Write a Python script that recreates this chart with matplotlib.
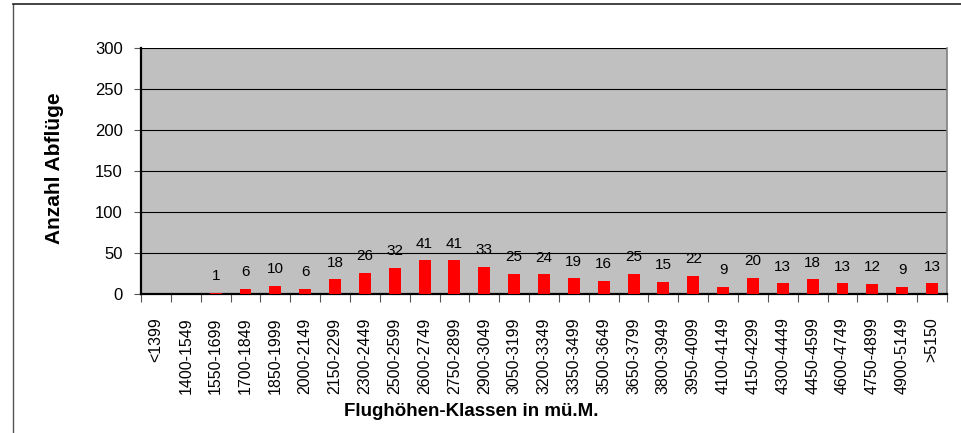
import matplotlib.pyplot as plt
from matplotlib.lines import Line2D
import numpy as np

plt.rcParams['font.family'] = ['Liberation Sans', 'DejaVu Sans']

# Flughöhen-Klassen und Anzahl Abflüge
klassen = ["<1399", "1400-1549", "1550-1699", "1700-1849", "1850-1999", "2000-2149",
           "2150-2299", "2300-2449", "2500-2599", "2600-2749", "2750-2899", "2900-3049",
           "3050-3199", "3200-3349", "3350-3499", "3500-3649", "3650-3799", "3800-3949",
           "3950-4099", "4100-4149", "4150-4299", "4300-4449", "4450-4599", "4600-4749",
           "4750-4899", "4900-5149", ">5150"]
abfluege = [0, 0, 1, 6, 10, 6, 18, 26, 32, 41, 41, 33, 25, 24, 19, 16, 25, 15, 22,
            9, 20, 13, 18, 13, 12, 9, 13]
y_ticks = [0, 50, 100, 150, 200, 250, 300]

fig = plt.figure(figsize=(9.62, 4.33), dpi=100)
ax = fig.add_axes([141 / 962, 1 - 294 / 433, (947 - 141) / 962, (294 - 48) / 433])

x = np.arange(len(klassen))
ax.set_facecolor("#C0C0C0")
ax.bar(x, abfluege, width=0.4, color="#FF0000", zorder=3)

for xi, v in zip(x, abfluege):
    if v > 0:
        ax.annotate(str(v), (xi, v), xytext=(0, 7), textcoords="offset points",
                    ha="center", va="bottom", fontsize=11)

ax.set_xlim(-0.5, len(klassen) - 0.5)
ax.set_ylim(0, 300)
ax.set_yticks(y_ticks)
ax.yaxis.grid(True, color="black", linewidth=0.8, zorder=1)
ax.set_axisbelow(True)

# ticks at class boundaries, labels in the middle
ax.set_xticks(np.arange(len(klassen) + 1) - 0.5)
ax.set_xticklabels([])
ax.set_xticks(x, minor=True)
ax.set_xticklabels(klassen, minor=True, rotation=90, fontsize=11.5)
ax.tick_params(axis="x", which="major", length=6, direction="out", color="#555555")
ax.tick_params(axis="x", which="minor", length=0, pad=17)
ax.tick_params(axis="y", length=5, direction="out", pad=8, labelsize=12, color="#555555")

ax.spines["left"].set_linewidth(1.6)
ax.spines["bottom"].set_linewidth(1.6)
ax.spines["top"].set_visible(False)
ax.spines["right"].set_color("#808080")
ax.spines["right"].set_linewidth(1.2)

ax.set_ylabel("Anzahl Abflüge", fontsize=15, fontweight="bold")
ax.yaxis.set_label_coords((64 - 141) / 806, (294 - 168) / 246)
fig.text(471 / 962, 1 - 412 / 433, "Flughöhen-Klassen in mü.M.", fontsize=13.5,
         fontweight="bold", ha="center", va="center")

# outer frame of the chart object (partly cut off)
fig.add_artist(Line2D([13 / 962, 13 / 962], [0, 1 - 4 / 433], color="#555555", linewidth=1.0))
fig.add_artist(Line2D([13 / 962, 1], [1 - 4 / 433, 1 - 4 / 433], color="#222222", linewidth=1.2))

fig.savefig("out.png", dpi=100)
